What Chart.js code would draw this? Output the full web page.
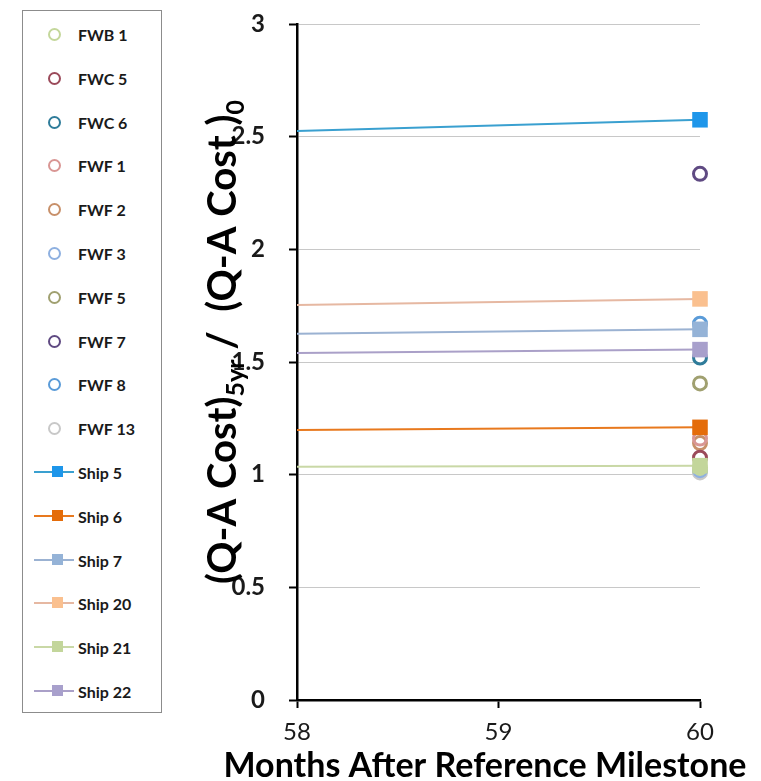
<!DOCTYPE html>
<html>
<head>
<meta charset="utf-8">
<script src="https://cdn.jsdelivr.net/npm/chart.js"></script>
<style>
  body { margin: 0; background: #fff; }
  #wrap { position: relative; width: 761px; height: 781px; }
  #chart { position: absolute; left: 0; top: 0; }
  #legend { position: absolute; left: 22px; top: 10px; width: 138px; height: 701px; border: 1px solid #8c8c8c; background: #fff; }
  .item { position: absolute; left: 0; width: 138px; height: 20px; font: bold 16px Lato, sans-serif; color: #1a1a1a; }
  .item span { position: absolute; left: 55px; top: 1px; }
  .circle { position: absolute; left: 25px; top: 4px; width: 9px; height: 9px; border: 2px solid; border-radius: 50%; }
  .line { position: absolute; left: 11px; top: 9px; width: 40px; height: 2px; }
  .square { position: absolute; left: 29px; top: 4px; width: 11px; height: 11px; }
</style>
</head>
<body>
<div id="wrap">
  <canvas id="chart" width="761" height="781"></canvas>
  <div id="legend"></div>
</div>
<script>
// single points at month 60
const circleNames = ['FWB 1', 'FWC 5', 'FWC 6', 'FWF 1', 'FWF 2', 'FWF 3', 'FWF 5', 'FWF 7', 'FWF 8', 'FWF 13'];
const circleValues = [1.03, 1.075, 1.52, 1.16, 1.14, 1.02, 1.405, 2.335, 1.67, 1.01];

// ship lines, value at month 58 and at month 60
const shipNames = ['Ship 5', 'Ship 6', 'Ship 7', 'Ship 20', 'Ship 21', 'Ship 22'];
const shipAt58 = [2.525, 1.198, 1.625, 1.753, 1.035, 1.54];
const shipAt60 = [2.575, 1.21, 1.645, 1.78, 1.04, 1.555];

const monthTicks = [58, 59, 60];
const valueTicks = [0, 0.5, 1, 1.5, 2, 2.5, 3];

const circleColors = ['#c4d79b', '#9b4a5a', '#2f7c9a', '#d99694', '#c8906a', '#8eb0e0', '#a0a070', '#5f4a82', '#5a9bd8', '#c8c8c8'];
const shipLineColors = ['#3aa0d0', '#e8791e', '#9bb2d2', '#e6b8a2', '#c9d8a6', '#aaa0c8'];
const shipMarkColors = ['#1e96ea', '#e46c0a', '#95b3d7', '#fac08f', '#c3d69b', '#a8a0cc'];

const datasets = [];
shipNames.forEach(function(name, i) {
    datasets.push({
        label: name,
        data: [{ x: monthTicks[0], y: shipAt58[i] }, { x: monthTicks[2], y: shipAt60[i] }],
        borderColor: shipLineColors[i],
        borderWidth: 2,
        pointStyle: 'rect',
        pointRadius: [0, 11],
        pointBackgroundColor: shipMarkColors[i],
        pointBorderColor: shipMarkColors[i],
        pointBorderWidth: 0,
        clip: false,
        order: 0
    });
});
circleNames.forEach(function(name, i) {
    datasets.push({
        label: name,
        data: [{ x: monthTicks[2], y: circleValues[i] }],
        showLine: false,
        pointStyle: 'circle',
        pointRadius: 6.5,
        pointBorderWidth: 3,
        pointBorderColor: circleColors[i],
        pointBackgroundColor: 'rgba(255,255,255,0)',
        clip: false,
        order: 1
    });
});

// legend in the box on the left
const legend = document.getElementById('legend');
const legendNames = circleNames.concat(shipNames);
legendNames.forEach(function(name, i) {
    const div = document.createElement('div');
    div.className = 'item';
    div.style.top = (13 + i * 43.8) + 'px';
    if (i < circleNames.length) {
        div.innerHTML = '<div class="circle" style="border-color:' + circleColors[i] + '"></div><span>' + name + '</span>';
    } else {
        const k = i - circleNames.length;
        div.innerHTML = '<div class="line" style="background:' + shipLineColors[k] + '"></div>' +
            '<div class="square" style="background:' + shipMarkColors[k] + '"></div><span>' + name + '</span>';
    }
    legend.appendChild(div);
});

// axis titles, the y one has subscripts
const axisTitles = {
    id: 'axisTitles',
    afterDraw(chart) {
        const ctx = chart.ctx;
        ctx.save();
        ctx.fillStyle = '#000';
        ctx.textBaseline = 'alphabetic';

        const parts = [['(Q-A Cost)', 40, 0], ['5yr', 25, 8], [' /  (Q-A Cost )', 40, 0], ['0', 25, 8]];
        let total = 0;
        parts.forEach(function(p) {
            ctx.font = 'bold ' + p[1] + 'px Lato, sans-serif';
            total += ctx.measureText(p[0]).width;
        });
        ctx.translate(236, 342);
        ctx.rotate(-Math.PI / 2);
        let x = -total / 2;
        parts.forEach(function(p) {
            ctx.font = 'bold ' + p[1] + 'px Lato, sans-serif';
            ctx.fillText(p[0], x, p[2]);
            x += ctx.measureText(p[0]).width;
        });
        ctx.restore();

        ctx.save();
        ctx.fillStyle = '#000';
        ctx.font = 'bold 34px Lato, sans-serif';
        ctx.textAlign = 'center';
        ctx.textBaseline = 'alphabetic';
        ctx.fillText('Months After Reference Milestone', 485, 777);
        ctx.restore();
    }
};

const ctx = document.getElementById('chart').getContext('2d');
window.myChart = new Chart(ctx, {
    type: 'line',
    data: { datasets: datasets },
    options: {
        responsive: false,
        animation: false,
        layout: { padding: { left: 180, top: 24, right: 61, bottom: 0 } },
        plugins: {
            legend: { display: false },
            tooltip: { enabled: false }
        },
        scales: {
            x: {
                type: 'linear',
                min: 58,
                max: 60,
                afterFit: function(scale) { scale.height = 81; },
                afterBuildTicks: function(scale) {
                    scale.ticks = monthTicks.map(function(v) { return { value: v }; });
                },
                border: { color: '#000', width: 2.5 },
                grid: { drawOnChartArea: false, tickLength: 8, tickColor: '#000', tickWidth: 2 },
                ticks: { color: '#1a1a1a', padding: 10, font: { family: 'Lato', size: 24 } }
            },
            y: {
                min: 0,
                max: 3,
                afterFit: function(scale) {
                    scale.width = 117;
                    scale.paddingTop = 0;
                    scale.paddingBottom = 0;
                },
                afterBuildTicks: function(scale) {
                    scale.ticks = valueTicks.map(function(v) { return { value: v }; });
                },
                border: { color: '#000', width: 2.5 },
                grid: { color: '#c8c8c8', lineWidth: 1, tickLength: 8, tickColor: '#000', tickWidth: 2 },
                ticks: {
                    color: '#1a1a1a',
                    padding: 24,
                    font: { family: 'Lato', size: 24, weight: 'bold' },
                    callback: function(value) { return String(value); }
                }
            }
        }
    },
    plugins: [axisTitles]
});
</script>
</body>
</html>
